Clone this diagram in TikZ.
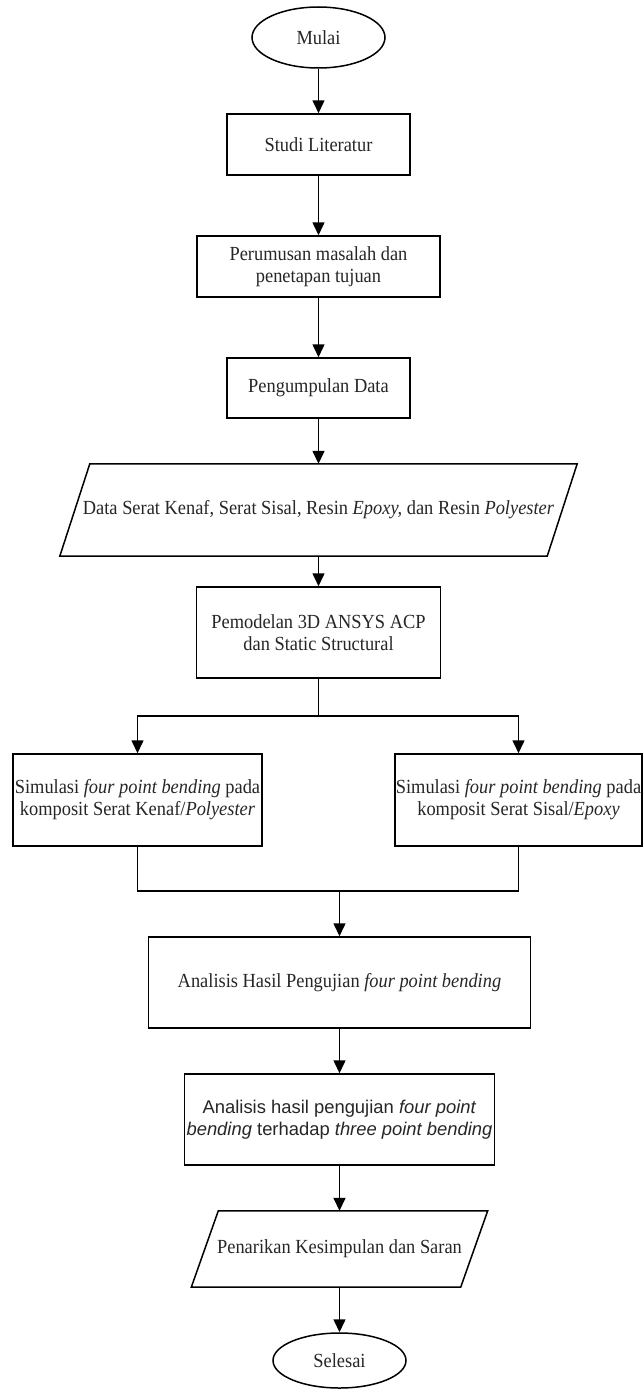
\documentclass[tikz,border=0pt]{standalone}
\usepackage{fontspec}
\setmainfont{Liberation Serif}[FakeStretch=0.92]
\newfontfamily\sansf{Liberation Sans}
\usetikzlibrary{shapes.geometric,arrows.meta,calc}
\begin{document}
\begin{tikzpicture}[x=1pt,y=-1pt,
  every node/.style={font=\fontsize{20}{22}\selectfont, align=center, inner sep=0pt, text=black!85},
  box/.style={draw, line width=1.5pt, rectangle},
  term/.style={draw, line width=1.5pt, ellipse},
  arr/.style={line width=1.5pt, -{Triangle[length=13pt,width=12pt]}},
  ln/.style={line width=1.5pt},
]
\useasboundingbox (0,0) rectangle (643,1389);
% top column
\node[term, minimum width=133pt, minimum height=61pt] (mulai) at (318.5,37.5) {Mulai};
\node[box, minimum width=183pt, minimum height=61pt] (studi) at (318.5,144.5) {Studi Literatur};
\node[box, minimum width=243pt, minimum height=61pt] (rumus) at (318.5,266.5) {Perumusan masalah dan\\penetapan tujuan};
\node[box, minimum width=183pt, minimum height=60pt] (kumpul) at (318.5,388) {Pengumpulan Data};
\node[minimum width=487pt, minimum height=92pt] (data) at (318.5,510) {Data Serat Kenaf, Serat Sisal, Resin \textit{Epoxy,} dan Resin \textit{Polyester}};
\draw[ln] ($(data.north west)+(15,0)$) -- ($(data.north east)+(15,0)$) -- ($(data.south east)+(-15,0)$) -- ($(data.south west)+(-15,0)$) -- cycle;
\node[box, minimum width=244pt, minimum height=91pt] (model) at (318.5,632.5) {Pemodelan 3D ANSYS ACP\\dan Static Structural};
% branches
\node[box, minimum width=249pt, minimum height=92pt] (simL) at (137.5,800) {Simulasi \textit{four point bending} pada\\komposit Serat Kenaf/\textit{Polyester}};
\node[box, minimum width=247pt, minimum height=92pt] (simR) at (518.5,800) {Simulasi \textit{four point bending} pada\\komposit Serat Sisal/\textit{Epoxy}};
\coordinate (br) at (318.5,716);
\coordinate (mg) at (339.5,891);
% bottom column
\node[box, minimum width=382pt, minimum height=91pt] (anal) at (339.5,982.5) {Analisis Hasil Pengujian \textit{four point bending}};
\node[box, minimum width=310pt, minimum height=91pt, font=\sansf\fontsize{18.4}{22}\selectfont] (hasil) at (339.5,1119.5) {Analisis hasil pengujian \textit{four point}\\\textit{bending} terhadap \textit{three point bending}};
\node[minimum width=269pt, minimum height=76pt] (tarik) at (339.5,1249) {Penarikan Kesimpulan dan Saran};
\draw[ln] ($(tarik.north west)+(13.5,0)$) -- ($(tarik.north east)+(13.5,0)$) -- ($(tarik.south east)+(-13.5,0)$) -- ($(tarik.south west)+(-13.5,0)$) -- cycle;
\node[term, minimum width=133pt, minimum height=55pt] (selesai) at (339.5,1360.5) {Selesai};
% connectors
\draw[arr] (mulai.south) -- (studi.north);
\draw[arr] (studi.south) -- (rumus.north);
\draw[arr] (rumus.south) -- (kumpul.north);
\draw[arr] (kumpul.south) -- (data.north);
\draw[arr] (data.south) -- (model.north);
\draw[ln] (model.south) -- (br);
\draw[arr] (br) -| (simL.north);
\draw[arr] (br) -| (simR.north);
\draw[ln] (simL.south) |- (mg) -| (simR.south);
\draw[arr] (mg) -- (anal.north);
\draw[arr] (anal.south) -- (hasil.north);
\draw[arr] (hasil.south) -- (tarik.north);
\draw[arr] (tarik.south) -- (selesai.north);
\end{tikzpicture}
\end{document}
